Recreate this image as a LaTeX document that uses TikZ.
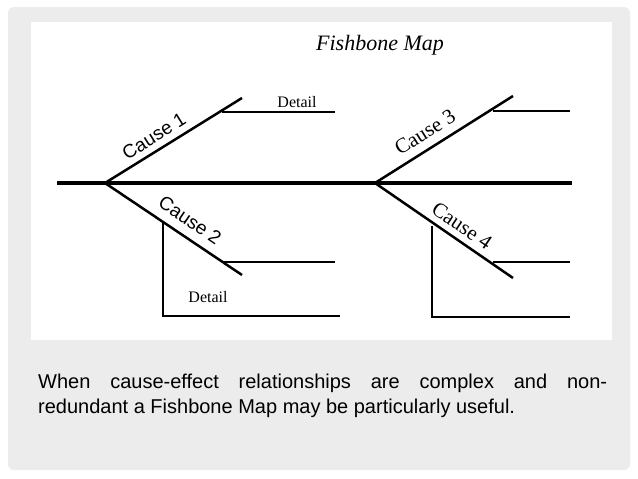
\documentclass[tikz,border=0pt]{standalone}
\usepackage{fontspec}
\setsansfont{Liberation Sans}
\setmainfont{Liberation Serif}
\tikzset{
  spine/.style={line width=4.5pt},
  bone/.style={line width=2.5pt},
  detail/.style={line width=1.3pt},
  sanslabel/.style={inner sep=0pt, font=\sffamily\fontsize{19}{19}\selectfont},
  seriflabel/.style={inner sep=0pt, font=\rmfamily\fontsize{21}{21}\selectfont},
  detaillabel/.style={inner sep=0pt, font=\rmfamily\fontsize{16}{16}\selectfont},
}
\begin{document}
\begin{tikzpicture}[x=1pt,y=-1pt]
    \useasboundingbox (0,0) rectangle (638,479);
    \fill[white] (0,0) rectangle (638,479);
    \fill[gray!15, rounded corners=6pt] (8,7) rectangle (630,470);
    \fill[white] (31,22) rectangle (612,340);

    \node (title) [font=\rmfamily\itshape\fontsize{22}{22}\selectfont] at (380,45) {Fishbone Map};

    % spine and junctions
    \coordinate (tail) at (57,183);
    \coordinate (head) at (572,183);
    \coordinate (jA) at (105,183);
    \coordinate (jB) at (375,183);
    \draw[spine] (tail) -- (head);

    % cause 1
    \coordinate (c1) at (242,98);
    \coordinate (d1a) at (222,112);
    \coordinate (d1b) at (335,112);
    \draw[bone] (jA) -- (c1);
    \draw[detail] (d1a) -- (d1b);
    \node (cause1) [sanslabel, rotate=32] at (154,136) {Cause 1};
    \node (detail1) [detaillabel] at (297,102) {Detail};

    % cause 2
    \coordinate (c2) at (242,275);
    \coordinate (d2a) at (222,262);
    \coordinate (d2b) at (335,262);
    \coordinate (v2a) at (163,222);
    \coordinate (v2b) at (340,316);
    \draw[bone] (jA) -- (c2);
    \draw[detail] (d2a) -- (d2b);
    \draw[detail] (v2a) |- (v2b);
    \node (cause2) [sanslabel, rotate=-34] at (190,220) {Cause 2};
    \node (detail2) [detaillabel] at (208,297) {Detail};

    % cause 3
    \coordinate (c3) at (513,96);
    \coordinate (d3a) at (493,111);
    \coordinate (d3b) at (570,111);
    \draw[bone] (jB) -- (c3);
    \draw[detail] (d3a) -- (d3b);
    \node (cause3) [seriflabel, rotate=32] at (425,132) {Cause 3};

    % cause 4
    \coordinate (c4) at (513,278);
    \coordinate (d4a) at (493,262);
    \coordinate (d4b) at (570,262);
    \coordinate (v4a) at (432,226);
    \coordinate (v4b) at (570,317);
    \draw[bone] (jB) -- (c4);
    \draw[detail] (d4a) -- (d4b);
    \draw[detail] (v4a) |- (v4b);
    \node (cause4) [seriflabel, rotate=-34] at (462,226) {Cause 4};

    \node (caption) [anchor=north west, inner sep=0pt, text width=569pt, align=justify,
      font=\sffamily\fontsize{20}{25}\selectfont] at (38,374)
      {When cause-effect relationships are complex and non-\linebreak redundant a Fishbone Map may be particularly useful.};
\end{tikzpicture}
\end{document}
